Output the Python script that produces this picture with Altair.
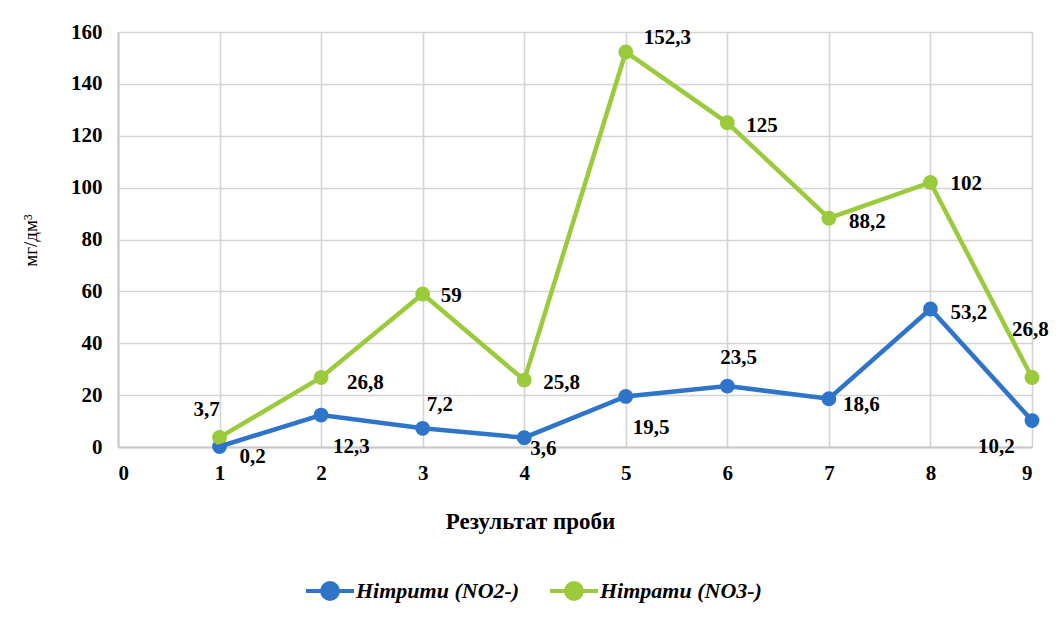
import altair as alt
import pandas as pd

# ---- data ----
x_vals = [1, 2, 3, 4, 5, 6, 7, 8, 9]
nitrites = [0.2, 12.3, 7.2, 3.6, 19.5, 23.5, 18.6, 53.2, 10.2]
nitrates = [3.7, 26.8, 59, 25.8, 152.3, 125, 88.2, 102, 26.8]
series_names = ["Нітрити (NO2-)", "Нітрати (NO3-)"]
x_ticks = list(range(0, 10))
y_ticks = list(range(0, 161, 20))

# ---- styling ----
colors = ["#2E75C9", "#9BCB3C"]
# label placement: pixel offset of label's left edge / vertical centre from its point
nitrite_dx = [20, 12, 4, 6, 7, -7, 14, 20, -54]
nitrite_dy = [11, 32, -23, 11, 32, -28, 6, 4, 26]
nitrate_dx = [-26, 26, 18, 19, 18, 19, 20, 20, -20]
nitrate_dy = [-27, 6, 2, 3, -14, 3, 4, 2, -47]

FONT = "Liberation Serif"

rows = []
for name, vals in zip(series_names, [nitrites, nitrates]):
    for x, v in zip(x_vals, vals):
        rows.append({"x": x, "value": v, "series": name,
                     "label": f"{v:g}".replace(".", ",")})
df = pd.DataFrame(rows)

x_enc = alt.X("x:Q", scale=alt.Scale(domain=[0, 9], nice=False, zero=False),
              axis=alt.Axis(values=x_ticks, title="Результат проби", format="d",
                            labelFont=FONT, labelFontSize=21, labelFontWeight="bold",
                            labelColor="#000", ticks=False, labelPadding=15,
                            titleFont=FONT, titleFontSize=23, titleFontWeight="bold",
                            titleColor="#000", titleX=412, titleY=74,
                            titleAlign="center", titleBaseline="middle",
                            gridColor="#d4d4d4", gridWidth=1.6,
                            domainColor="#c8c8c8", domainWidth=2))
y_enc = alt.Y("value:Q", scale=alt.Scale(domain=[0, 160], nice=False),
              axis=alt.Axis(values=y_ticks, title="мг/дм³",
                            labelFont=FONT, labelFontSize=21, labelFontWeight="bold",
                            labelColor="#000", ticks=False, labelPadding=16,
                            titleFont=FONT, titleFontSize=19, titleFontWeight="normal",
                            titleColor="#000", titleX=-88, titleY=208,
                            titleAlign="center", titleBaseline="middle", titleAngle=-90,
                            gridColor="#d4d4d4", gridWidth=1.6,
                            domainColor="#c8c8c8", domainWidth=2))

color_enc = alt.Color("series:N",
                      scale=alt.Scale(domain=series_names, range=colors),
                      legend=alt.Legend(
                          title=None, orient="none", direction="horizontal",
                          legendX=186, legendY=533,
                          symbolType="M-1,0L1,0M-0.33,0a0.33,0.33 0 1,0 0.66,0a0.33,0.33 0 1,0 -0.66,0",
                          symbolSize=2304, symbolStrokeWidth=4,
                          labelFont=FONT, labelFontSize=22, labelFontWeight="bold",
                          labelFontStyle="italic", labelColor="#000",
                          labelOffset=0, columnPadding=22, labelLimit=300))

base = alt.Chart(df).encode(x=x_enc, y=y_enc)

points = base.mark_point(filled=True, size=220, opacity=1).encode(color=color_enc)
lines = base.mark_line(strokeWidth=4.5).encode(color=color_enc)

label_layers = []
for name, dxs, dys in [(series_names[0], nitrite_dx, nitrite_dy),
                       (series_names[1], nitrate_dx, nitrate_dy)]:
    for xv, dx, dy in zip(x_vals, dxs, dys):
        label_layers.append(
            base.transform_filter((alt.datum.series == name) & (alt.datum.x == xv))
            .mark_text(align="left", baseline="middle", dx=dx, dy=dy,
                       font=FONT, fontSize=21, fontWeight="bold", color="#000")
            .encode(text="label:N")
        )

chart = alt.layer(points, lines, *label_layers).properties(
    width=914, height=415,
    autosize=alt.AutoSizeParams(type="none"),
    padding={"left": 110, "top": 24, "right": 21, "bottom": 166},
).configure_view(stroke=None).configure(background="white")

chart.save("out.html", embed_options={"renderer": "svg", "actions": False})
